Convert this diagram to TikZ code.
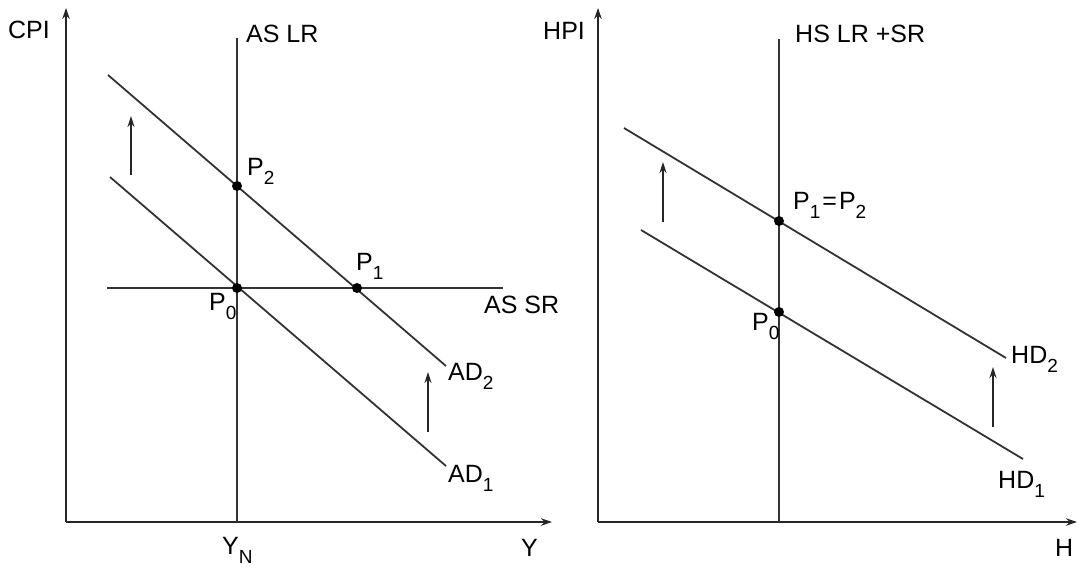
\documentclass[tikz,border=0pt]{standalone}
\usepackage{fontspec}
\setmainfont{Liberation Sans}
\usetikzlibrary{arrows.meta}
\newcommand\lowsub[1]{\raisebox{-0.36em}{\fontsize{19}{21}\selectfont #1}}
\tikzset{
  axisline/.style={line width=1.8pt, draw=black!85, -{Stealth[length=11pt,width=7.5pt]}},
  curve/.style={line width=1.8pt, draw=black!80},
  shiftarrow/.style={line width=1.6pt, draw=black!85, -{Stealth[length=11pt,width=7pt]}},
  lbl/.style={inner sep=0pt, anchor=base west, font=\fontsize{25}{29}\selectfont},
  dot/.style={circle, fill=black, inner sep=0pt, minimum size=10pt}
}
\begin{document}
\begin{tikzpicture}[x=1pt,y=-1pt]
\useasboundingbox (0,0) rectangle (1077,568);
% ---------- left panel ----------
\coordinate (O1) at (66,522);
\coordinate (Ytop) at (66,8);
\coordinate (Xend) at (552,522);
\draw[axisline] (O1) -- (Ytop);
\draw[axisline] (O1) -- (Xend);
\coordinate (LRtop) at (237,38);
\coordinate (LRbot) at (237,522);
\draw[curve] (LRbot) -- (LRtop);
\coordinate (SRa) at (107,288);
\coordinate (SRb) at (503,288);
\draw[curve] (SRa) -- (SRb);
\coordinate (AD1a) at (110,177);
\coordinate (AD1b) at (446,466);
\draw[curve] (AD1a) -- (AD1b);
\coordinate (AD2a) at (108,75);
\coordinate (AD2b) at (446,366);
\draw[curve] (AD2a) -- (AD2b);
\node[dot] (p2) at (237,186) {};
\node[dot] (p0) at (237,288) {};
\node[dot] (p1) at (357,288) {};
\coordinate (la1) at (131,175);
\coordinate (la2) at (131,116);
\draw[shiftarrow] (la1) -- (la2);
\coordinate (ra1) at (428,432);
\coordinate (ra2) at (428,372);
\draw[shiftarrow] (ra1) -- (ra2);
\node[lbl] (cpi) at (8,38) {CPI};
\node[lbl] (aslr) at (246,42) {AS LR};
\node[lbl] (assr) at (484,313) {AS SR};
\node[lbl] (ad2) at (448,380) {AD\lowsub{2}};
\node[lbl] (ad1) at (448,482) {AD\lowsub{1}};
\node[lbl] (lp2) at (247,175) {P\lowsub{2}};
\node[lbl] (lp1) at (356,270) {P\lowsub{1}};
\node[lbl] (lp0) at (209,310) {P\lowsub{0}};
\node[lbl] (yn) at (222,554) {Y\lowsub{N}};
\node[lbl] (ylab) at (521,556) {Y};
% ---------- right panel ----------
\coordinate (O2) at (598,522);
\coordinate (Htop) at (598,8);
\coordinate (Hend) at (1077,522);
\draw[axisline] (O2) -- (Htop);
\draw[axisline] (O2) -- (Hend);
\coordinate (HStop) at (779,39);
\coordinate (HSbot) at (779,522);
\draw[curve] (HSbot) -- (HStop);
\coordinate (HD2a) at (624,128);
\coordinate (HD2b) at (1006,358);
\draw[curve] (HD2a) -- (HD2b);
\coordinate (HD1a) at (641,230);
\coordinate (HD1b) at (1023,459);
\draw[curve] (HD1a) -- (HD1b);
\node[dot] (q12) at (779,221) {};
\node[dot] (q0) at (779,312) {};
\coordinate (lb1) at (663,222);
\coordinate (lb2) at (663,162);
\draw[shiftarrow] (lb1) -- (lb2);
\coordinate (rb1) at (993,427);
\coordinate (rb2) at (993,367);
\draw[shiftarrow] (rb1) -- (rb2);
\node[lbl] (hpi) at (543,39) {HPI};
\node[lbl] (hslr) at (795,42) {HS LR +SR};
\node[lbl] (hd2) at (1011,363) {HD\lowsub{2}};
\node[lbl] (hd1) at (998,488) {HD\lowsub{1}};
\node[lbl] (rp12) at (793,209) {P\lowsub{1}\hspace{2pt}=\hspace{2pt}P\lowsub{2}};
\node[lbl] (rp0) at (752,330) {P\lowsub{0}};
\node[lbl] (hlab) at (1055,556) {H};
\end{tikzpicture}
\end{document}
